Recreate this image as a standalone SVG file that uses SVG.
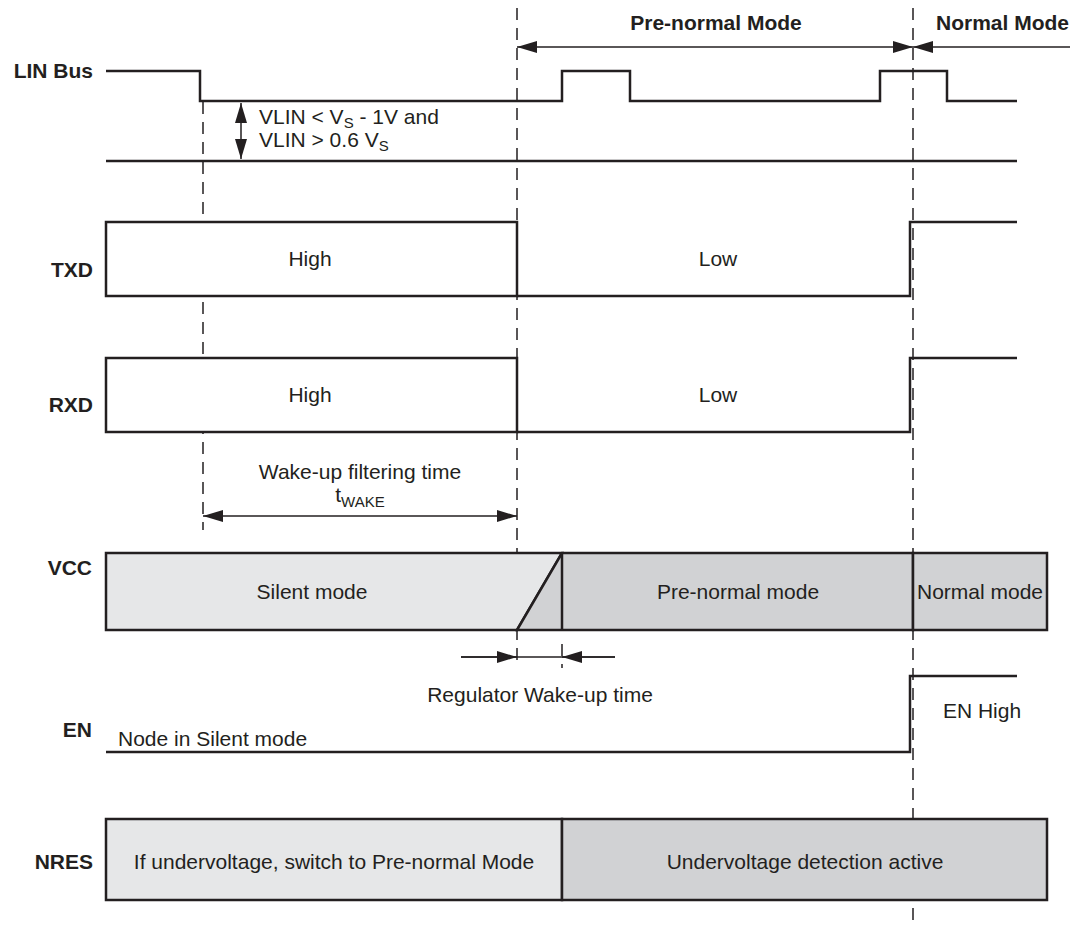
<svg xmlns="http://www.w3.org/2000/svg" width="1089" height="930" viewBox="0 0 1089 930">
<style>
text{font-family:"Liberation Sans",Arial,sans-serif;font-size:21px;fill:#231f20}
.lbl{font-weight:bold;text-anchor:end}
.b{font-weight:bold}
.c{text-anchor:middle}
.sub{font-size:15px}
.w{fill:none;stroke:#231f20;stroke-width:2.5;stroke-linejoin:miter}
.box{fill:#fff;stroke:#231f20;stroke-width:2.5}
.lt{fill:#e6e7e8;stroke:#231f20;stroke-width:2.5}
.dk{fill:#d1d2d4;stroke:#231f20;stroke-width:2.5}
.d{fill:none;stroke:#231f20;stroke-width:1.5;stroke-dasharray:12 8}
.a{fill:none;stroke:#231f20;stroke-width:1.5}
.ae{marker-end:url(#ah)}
.ab{marker-start:url(#ah);marker-end:url(#ah)}
</style>
<defs>
<marker id="ah" markerUnits="userSpaceOnUse" markerWidth="20" markerHeight="12" refX="20" refY="6" orient="auto-start-reverse">
<path d="M0,0 L20,6 L0,12 z" fill="#231f20"/>
</marker>
</defs>
<g id="guides">
<line class="d" x1="203" y1="102" x2="203" y2="530"/>
<line class="d" x1="517" y1="8" x2="517" y2="668"/>
<line class="d" x1="562" y1="644" x2="562" y2="668"/>
<line class="d" x1="913" y1="8" x2="913" y2="926"/>
</g>
<g id="connectors">
<line class="a ab" x1="517" y1="47" x2="913" y2="47"/>
<line class="a ae" x1="1070" y1="47" x2="913" y2="47"/>
<line class="a ab" x1="241" y1="103" x2="241" y2="159"/>
<line class="a ab" x1="203" y1="516" x2="517" y2="516"/>
<line class="a" x1="461" y1="657" x2="615" y2="657"/>
<line class="a ae" x1="461" y1="657" x2="517" y2="657"/>
<line class="a ae" x1="615" y1="657" x2="562" y2="657"/>
</g>
<g id="modes">
<text class="b c" x="716" y="30">Pre-normal Mode</text>
<text class="b" x="936" y="30">Normal Mode</text>
</g>
<g id="lin">
<text class="lbl" x="93" y="78">LIN Bus</text>
<polyline class="w" points="106,71 200,71 200,101 562,101 562,71 630,71 630,101 880,101 880,71 947,71 947,101 1017,101"/>
<line class="w" x1="106" y1="161" x2="1017" y2="161"/>
<text x="259" y="124">VLIN &lt; V<tspan class="sub" dy="4">S</tspan><tspan dy="-4"> - 1V and</tspan></text>
<text x="259" y="147">VLIN &gt; 0.6 V<tspan class="sub" dy="4">S</tspan></text>
</g>
<g id="txd">
<text class="lbl" x="93" y="277">TXD</text>
<rect class="box" x="106" y="222" width="411" height="74"/>
<polyline class="w" points="517,296 910,296 910,222 1017,222"/>
<text class="c" x="310" y="266">High</text>
<text class="c" x="718" y="266">Low</text>
</g>
<g id="rxd">
<text class="lbl" x="93" y="412">RXD</text>
<rect class="box" x="106" y="358" width="411" height="74"/>
<polyline class="w" points="517,432 910,432 910,358 1017,358"/>
<text class="c" x="310" y="402">High</text>
<text class="c" x="718" y="402">Low</text>
</g>
<g id="twake">
<text class="c" x="360" y="479">Wake-up filtering time</text>
<text class="c" x="360" y="502">t<tspan class="sub" dy="5">WAKE</tspan></text>
</g>
<g id="vcc">
<text class="lbl" x="92" y="575">VCC</text>
<polygon class="lt" points="106,553 562,553 517,630 106,630"/>
<polygon class="dk" points="562,553 913,553 913,630 517,630"/>
<line class="w" x1="562" y1="553" x2="562" y2="630"/>
<rect class="dk" x="913" y="553" width="134" height="77"/>
<text class="c" x="312" y="599">Silent mode</text>
<text class="c" x="738" y="599">Pre-normal mode</text>
<text class="c" x="980" y="599">Normal mode</text>
</g>
<g id="regwake">
<text class="c" x="540" y="702">Regulator Wake-up time</text>
</g>
<g id="en">
<text class="lbl" x="92" y="737">EN</text>
<polyline class="w" points="106,752 910,752 910,676 1017,676"/>
<text x="118" y="746">Node in Silent mode</text>
<text class="c" x="982" y="718">EN High</text>
</g>
<g id="nres">
<text class="lbl" x="93" y="869">NRES</text>
<rect class="lt" x="106" y="819" width="456" height="81"/>
<rect class="dk" x="562" y="819" width="485" height="81"/>
<text class="c" x="334" y="869">If undervoltage, switch to Pre-normal Mode</text>
<text class="c" x="805" y="869">Undervoltage detection active</text>
</g>
</svg>
